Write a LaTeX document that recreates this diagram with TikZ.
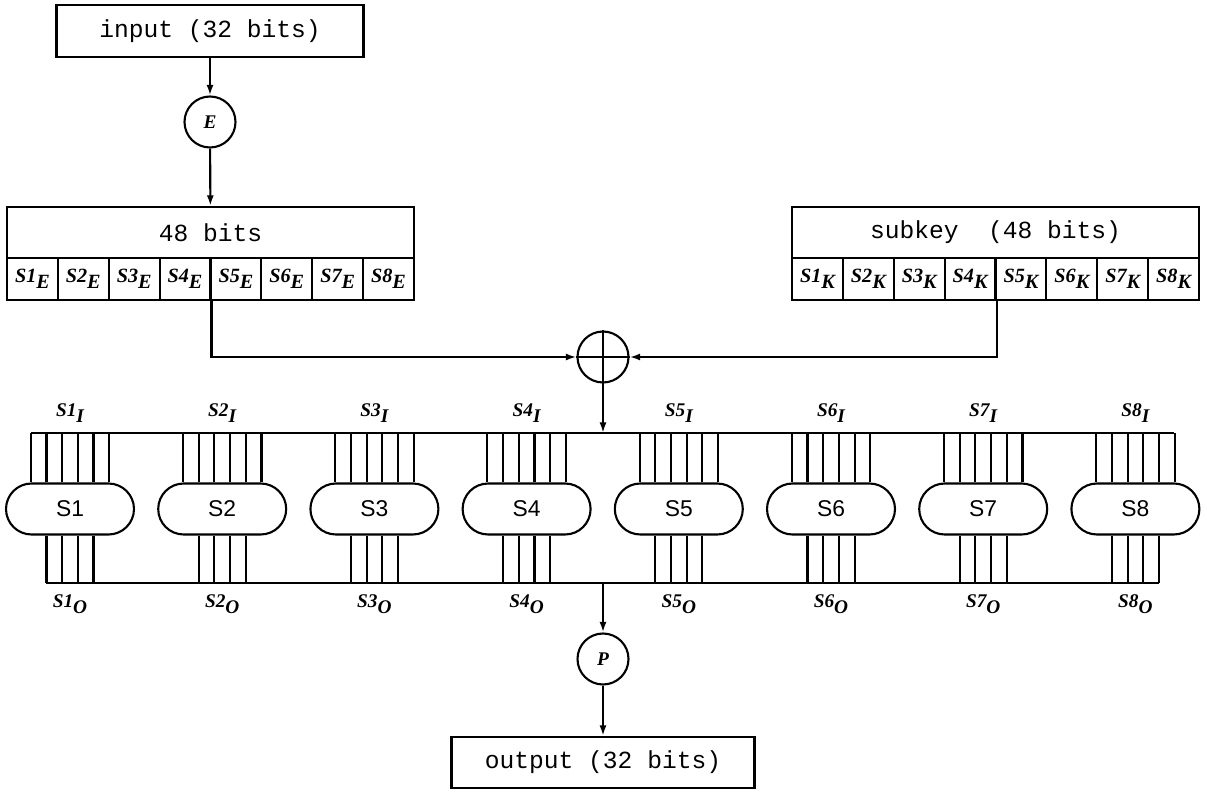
\documentclass[tikz,border=0pt]{standalone}
\usepackage{fontspec}
\setmainfont{Liberation Serif}
\newfontfamily\monofont{Liberation Mono}
\newfontfamily\sansfont{Liberation Sans}
\usetikzlibrary{shapes.misc,arrows.meta,calc}
\newcommand\slab[2]{{\bfseries\itshape #1\raisebox{-0.7ex}{#2}}}
\begin{document}
\begin{tikzpicture}[x=0.02cm,y=-0.02cm,line width=1.2pt,
  box/.style={draw,rectangle,inner sep=0pt,font=\monofont\fontsize{14}{16}\selectfont},
  cell/.style={draw,rectangle,inner sep=0pt,minimum width=1.0175cm,minimum height=0.84cm,
     font=\fontsize{11.5}{13}\selectfont},
  ring/.style={draw,circle,inner sep=0pt,minimum size=1.02cm,font=\fontsize{11}{12}\selectfont\bfseries\itshape},
  sbox/.style={draw,rounded rectangle,inner sep=0pt,minimum width=2.56cm,minimum height=1.02cm,
     font=\sansfont\fontsize{13}{15}\selectfont},
  lab/.style={inner sep=0pt,font=\fontsize{11}{13}\selectfont},
  arr/.style={-{Latex[length=6pt,width=4pt]}}]
\useasboundingbox (0,0) rectangle (1207,793);

% input, E
\node[box,minimum width=6.14cm,minimum height=1.04cm] (inp) at (210,31) {input (32 bits)};
\node[ring] (E) at (210,122) {E};

% 48 bits box
\node[box,minimum width=8.14cm,minimum height=1.02cm] (etop) at (210.5,232.5) {48 bits};
\foreach \i in {1,...,8}{
  \node[cell] (e\i) at ({7+50.875*(\i-0.5)},279) {\slab{S\i}{E}};
}
% subkey box
\node[box,minimum width=8.14cm,minimum height=1.02cm] (ktop) at (995.5,232.5) {subkey\ \ (48 bits)};
\foreach \i in {1,...,8}{
  \node[cell] (k\i) at ({792+50.875*(\i-0.5)},279) {\slab{S\i}{K}};
}

% XOR
\node[ring] (xor) at (603,357) {};
\draw (xor.north) -- (xor.south) (xor.west) -- (xor.east);

% connectors top
\draw[arr] (inp) -- (E);
\draw[arr] (E) -- (etop);
\draw[arr] (e4.south east) |- (xor.west);
\draw[arr] (k4.south east) |- (xor.east);

% buses
\coordinate (bustl) at (30.75,433);
\coordinate (bustr) at (1174.3,433);
\coordinate (busbl) at (46.45,583);
\coordinate (busbr) at (1158.6,583);
\coordinate (busin) at (603,433);
\coordinate (busout) at (603,583);
\draw (bustl) -- (bustr);
\draw (busbl) -- (busbr);
\draw[arr] (xor.south) -- (busin);

% S-boxes
\foreach \i in {1,...,8}{
  \pgfmathsetmacro\cx{70+152.2*(\i-1)}
  \node[sbox] (s\i) at (\cx,509) {S\i};
  \foreach \k in {1,...,6}{
    \path (s\i.north) ++({(\k-3.5)*15.7},0) coordinate (a);
    \draw (a) -- (a |- bustl);
  }
  \foreach \k in {2,...,5}{
    \path (s\i.south) ++({(\k-3.5)*15.7},0) coordinate (b);
    \draw (b) -- (b |- busbl);
  }
  \node[lab] (li\i) at (\cx,413) {\slab{S\i}{I}};
  \node[lab] (lo\i) at (\cx,604) {\slab{S\i}{O}};
}

% P and output
\node[ring] (P) at (603,659) {P};
\node[box,minimum width=6.06cm,minimum height=1.02cm] (out) at (603,762.5) {output (32 bits)};
\draw[arr] (busout) -- (P);
\draw[arr] (P) -- (out);
\end{tikzpicture}
\end{document}
